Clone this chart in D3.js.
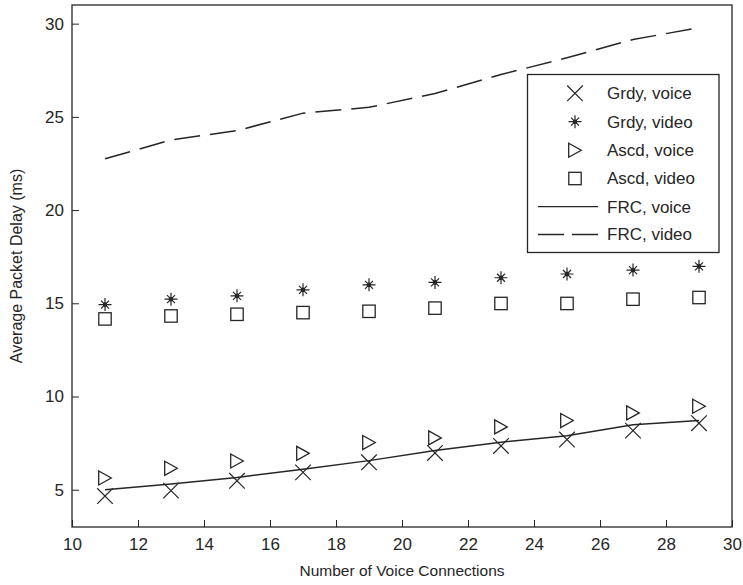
<!DOCTYPE html>
<html><head><meta charset="utf-8">
<script src="https://cdn.jsdelivr.net/npm/d3@7"></script>
<style>body{margin:0;background:#fff;} svg{display:block;}</style>
</head><body>
<svg id="c" width="743" height="585"></svg>
<script>
const connections = [11,13,15,17,19,21,23,25,27,29];
const grdyVoice = [4.66,4.95,5.48,5.93,6.47,6.97,7.35,7.69,8.17,8.57];
const grdyVideo = [14.93,15.22,15.40,15.72,15.99,16.12,16.37,16.57,16.78,16.98];
const ascdVoice = [5.63,6.15,6.54,6.95,7.53,7.78,8.37,8.71,9.12,9.48];
const ascdVideo = [14.16,14.32,14.41,14.50,14.57,14.74,14.99,14.99,15.22,15.31];
const frcVoice = [5.00,5.30,5.66,6.10,6.56,7.10,7.55,7.90,8.48,8.71];
const frcVideo = [22.75,23.76,24.26,25.20,25.51,26.25,27.27,28.17,29.15,29.78];
const xTicks = [10,12,14,16,18,20,22,24,26,28,30];
const yTicks = [5,10,15,20,25,30];
const legendLabels = ["Grdy, voice","Grdy, video","Ascd, voice","Ascd, video","FRC, voice","FRC, video"];

const svg = d3.select("#c");
const L=72, R=732, T=5, B=527;
const x = d3.scaleLinear().domain([10,30]).range([L,R]);
const y = d3.scaleLinear().domain([3,31]).range([B,T]);
const ink = "#262626";
const font = "'Liberation Sans', Arial, sans-serif";

// axes
const xAxis = svg.append("g").attr("transform",`translate(0,${B})`)
  .call(d3.axisBottom(x).tickValues(xTicks).tickSizeInner(-7).tickSizeOuter(0).tickPadding(11));
const yAxis = svg.append("g").attr("transform",`translate(${L},0)`)
  .call(d3.axisLeft(y).tickValues(yTicks).tickSizeInner(-7).tickSizeOuter(0).tickPadding(8));
[xAxis,yAxis].forEach(g=>{
  g.select(".domain").remove();
  g.selectAll("line").attr("stroke",ink).attr("stroke-width",1);
  g.selectAll("text").attr("fill",ink).attr("font-family",font).attr("font-size",17);
});
// frame
svg.append("rect").attr("x",L).attr("y",T).attr("width",R-L).attr("height",B-T)
  .attr("fill","none").attr("stroke",ink).attr("stroke-width",1.3);

// labels
svg.append("text").attr("x",(L+R)/2).attr("y",576).attr("text-anchor","middle")
  .attr("font-family",font).attr("font-size",15.5).attr("fill",ink).text("Number of Voice Connections");
svg.append("text").attr("transform",`translate(22,${(T+B)/2}) rotate(-90)`).attr("text-anchor","middle")
  .attr("font-family",font).attr("font-size",16).attr("fill",ink).text("Average Packet Delay (ms)");

const line = d3.line().x((d,i)=>x(connections[i])).y(d=>y(d));
svg.append("path").datum(frcVoice).attr("d",line).attr("fill","none").attr("stroke",ink).attr("stroke-width",1.5);
svg.append("path").datum(frcVideo).attr("d",line).attr("fill","none").attr("stroke",ink).attr("stroke-width",1.5).attr("stroke-dasharray","26,10");

// marker drawers
function drawX(g,cx,cy){ const s=7.8;
  g.append("path").attr("d",`M${cx-s},${cy-s}L${cx+s},${cy+s}M${cx-s},${cy+s}L${cx+s},${cy-s}`)
   .attr("stroke",ink).attr("stroke-width",1.2).attr("fill","none"); }
function drawStar(g,cx,cy){ const s=6.5, d=4;
  g.append("path").attr("d",`M${cx-s},${cy}L${cx+s},${cy}M${cx},${cy-s}L${cx},${cy+s}M${cx-d},${cy-d}L${cx+d},${cy+d}M${cx-d},${cy+d}L${cx+d},${cy-d}`)
   .attr("stroke",ink).attr("stroke-width",1.2).attr("fill","none");
  g.append("circle").attr("cx",cx).attr("cy",cy).attr("r",2.3).attr("fill",ink); }
function drawTri(g,cx,cy){ const w=6.3,h=7;
  g.append("path").attr("d",`M${cx-w},${cy-h}L${cx+w},${cy}L${cx-w},${cy+h}Z`)
   .attr("stroke",ink).attr("stroke-width",1.3).attr("fill","none"); }
function drawSq(g,cx,cy){ const s=6.2;
  g.append("rect").attr("x",cx-s).attr("y",cy-s).attr("width",2*s).attr("height",2*s)
   .attr("stroke",ink).attr("stroke-width",1.3).attr("fill","none"); }

const mg = svg.append("g");
[[grdyVoice,drawX],[grdyVideo,drawStar],[ascdVoice,drawTri],[ascdVideo,drawSq]].forEach(([arr,fn])=>{
  arr.forEach((v,i)=>fn(mg,x(connections[i]),y(v)));
});

// legend
const lg = svg.append("g");
lg.append("rect").attr("x",527.5).attr("y",74.5).attr("width",191.5).attr("height",178)
  .attr("fill","#fff").attr("stroke",ink).attr("stroke-width",1.3);
const rowY = [93.3,121.7,150.2,178.5,206.7,234.5];
const symX = 575;
[drawX,drawStar,drawTri,drawSq].forEach((fn,i)=>fn(lg,symX,rowY[i]));
lg.append("line").attr("x1",538).attr("x2",598).attr("y1",rowY[4]).attr("y2",rowY[4]).attr("stroke",ink).attr("stroke-width",1.3);
lg.append("line").attr("x1",538).attr("x2",598).attr("y1",rowY[5]).attr("y2",rowY[5]).attr("stroke",ink).attr("stroke-width",1.3).attr("stroke-dasharray","26,8");
legendLabels.forEach((t,i)=>{
  lg.append("text").attr("x",607).attr("y",rowY[i]).attr("dy","0.35em")
    .attr("font-family",font).attr("font-size",17).attr("fill",ink).text(t);
});
</script>
</body></html>
